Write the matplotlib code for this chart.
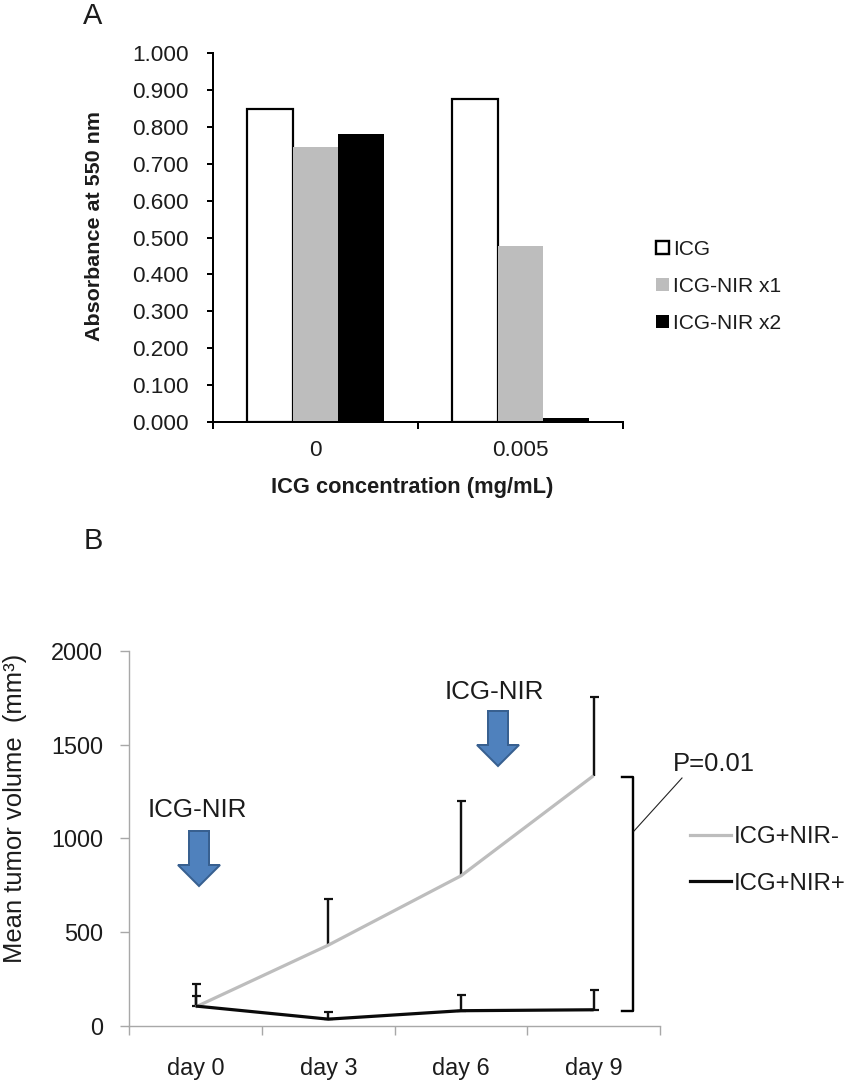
import matplotlib
matplotlib.use("Agg")
import matplotlib.pyplot as plt
from matplotlib.patches import Patch, Polygon
from matplotlib.lines import Line2D
import numpy as np

plt.rcParams['font.family'] = ['Liberation Sans', 'DejaVu Sans']

W, H = 850, 1084
DPI = 100
def pt(px):
    return px * 72 / DPI

# Panel A data
conc_labels = ['0', '0.005']
icg = [0.848, 0.875]
icg_nir1 = [0.747, 0.477]
icg_nir2 = [0.782, 0.010]
abs_ticks = [0.0, 0.1, 0.2, 0.3, 0.4, 0.5, 0.6, 0.7, 0.8, 0.9, 1.0]

# Panel B data
days = ['day 0', 'day 3', 'day 6', 'day 9']
nir_minus = [100, 430, 800, 1335]
nir_minus_upper = [160, 675, 1200, 1755]
nir_plus = [105, 35, 80, 85]
nir_plus_upper = [225, 75, 165, 190]
vol_ticks = [0, 500, 1000, 1500, 2000]

INK = '#1c1c1c'
GRAY = '#bdbdbd'

fig = plt.figure(figsize=(W / DPI, H / DPI), dpi=DPI, facecolor='white')

def axes_px(l, t, r, b):
    return fig.add_axes([l / W, 1 - b / H, (r - l) / W, (b - t) / H])

# ---------- Panel A ----------
a = axes_px(213, 53.3, 623, 421.7)
x = np.arange(len(conc_labels)) + 0.5
bw = 0.2225
a.bar(x - bw, icg, bw, color='white', edgecolor='black', linewidth=pt(2.2), zorder=2)
a.bar(x, icg_nir1, bw, color=GRAY, edgecolor='none', zorder=3)
a.bar(x + bw, icg_nir2, bw, color='black', edgecolor='none', zorder=3)
a.set_xlim(0, len(conc_labels))
a.set_ylim(0, 1)
a.set_yticks(abs_ticks)
a.set_yticklabels([f'{v:.3f}' for v in abs_ticks], fontsize=pt(22.5), color=INK)
a.set_xticks(np.arange(len(conc_labels) + 1))
a.set_xticklabels([])
a.set_xticks(x, minor=True)
a.set_xticklabels(conc_labels, minor=True, fontsize=pt(22.5), color=INK)
a.tick_params(axis='x', which='minor', length=0, pad=pt(18))
a.tick_params(axis='x', which='major', length=pt(7), width=pt(2), color='black')
a.tick_params(axis='y', length=pt(6), width=pt(2), color='black', pad=pt(18))
for s in ('top', 'right'):
    a.spines[s].set_visible(False)
for s in ('left', 'bottom'):
    a.spines[s].set_linewidth(pt(2))
    a.spines[s].set_zorder(5)

a_handles = [Patch(facecolor='white', edgecolor='black', linewidth=pt(2.4)),
             Patch(facecolor=GRAY, edgecolor='none'),
             Patch(facecolor='black', edgecolor='none')]
fig.legend(a_handles, ['ICG', 'ICG-NIR x1', 'ICG-NIR x2'],
           loc='upper left', bbox_to_anchor=(656 / W, 1 - 240 / H),
           frameon=False, fontsize=pt(21), handlelength=0.6, handleheight=0.6,
           handletextpad=0.2, labelspacing=0.86, borderpad=0, borderaxespad=0,
           labelcolor=INK)

# ---------- Panel B ----------
b = axes_px(129.3, 651, 660, 1025.7)
xb = np.arange(len(days)) + 0.5
for mean, upper in ((nir_minus, nir_minus_upper), (nir_plus, nir_plus_upper)):
    b.vlines(xb, mean, upper, color='#111111', linewidth=pt(2.4), zorder=3)
    b.plot(xb, upper, ls='none', marker='_', ms=pt(9), mew=pt(2.2), color='#111111', zorder=3)
b.plot(xb, nir_plus, ls='none', marker='_', ms=pt(9), mew=pt(2.2), color='#111111', zorder=3)
b.plot(xb, nir_minus, color=GRAY, linewidth=pt(3.2), zorder=4, solid_capstyle='butt')
b.plot(xb, nir_plus, color='#0a0a0a', linewidth=pt(3.2), zorder=5, solid_capstyle='butt')
b.set_xlim(0, len(days))
b.set_ylim(0, 2000)
b.set_yticks(vol_ticks)
b.set_yticklabels([str(v) for v in vol_ticks], fontsize=pt(23.5), color=INK)
b.set_xticks(np.arange(len(days) + 1))
b.set_xticklabels([])
b.set_xticks(xb, minor=True)
b.set_xticklabels(days, minor=True, fontsize=pt(23.5), color=INK)
b.tick_params(axis='x', which='minor', length=0, pad=pt(31))
b.tick_params(axis='x', which='major', length=pt(9), width=pt(1.4), color='#a8a8a8')
b.tick_params(axis='y', length=pt(9), width=pt(1.4), color='#a8a8a8', pad=pt(17))
for s in ('top', 'right'):
    b.spines[s].set_visible(False)
for s in ('left', 'bottom'):
    b.spines[s].set_linewidth(pt(1.4))
    b.spines[s].set_color('#a8a8a8')

b_handles = [Line2D([], [], color=GRAY, linewidth=pt(3.2)),
             Line2D([], [], color='#0a0a0a', linewidth=pt(3.2))]
fig.legend(b_handles, ['ICG+NIR-', 'ICG+NIR+'],
           loc='upper left', bbox_to_anchor=(690 / W, 1 - 826 / H),
           frameon=False, fontsize=pt(24), handlelength=1.72,
           handletextpad=0.12, labelspacing=1.03, borderpad=0, borderaxespad=0,
           labelcolor=INK)

# ---------- Annotation overlay in pixel coordinates ----------
o = fig.add_axes([0, 0, 1, 1], facecolor='none')
o.set_xlim(0, W)
o.set_ylim(H, 0)
o.axis('off')

def txt(px, py, s, size, **kw):
    kw.setdefault('ha', 'center')
    kw.setdefault('va', 'center')
    kw.setdefault('color', INK)
    o.text(px, py, s, fontsize=pt(size), **kw)

txt(93, 16, 'A', 29)
txt(93, 541, 'B', 29)
txt(95, 226, 'Absorbance at 550 nm', 21.5, rotation=90, fontweight='bold')
txt(412, 487, 'ICG concentration (mg/mL)', 21.9, fontweight='bold')
txt(15, 808, 'Mean tumor volume  (mm³)', 25.6, rotation=90)
txt(197, 810, 'ICG-NIR', 26)
txt(494.5, 692, 'ICG-NIR', 26)
txt(713.5, 764, 'P=0.01', 25.6)

def arrow(cx, top, neck, tip):
    half_shaft, half_head = 10, 21
    pts = [(cx - half_shaft, top), (cx + half_shaft, top), (cx + half_shaft, neck),
           (cx + half_head, neck), (cx, tip), (cx - half_head, neck), (cx - half_shaft, neck)]
    o.add_patch(Polygon(pts, closed=True, facecolor='#4f81bd', edgecolor='#386090',
                        linewidth=pt(2)))

arrow(199, 831, 865, 886)
arrow(498, 711, 745, 766)

o.plot([622, 633, 633, 622], [777, 777, 1011, 1011], color='black', linewidth=pt(2.4),
       solid_joinstyle='round')
o.plot([634, 682], [831, 778], color='#222222', linewidth=pt(1.1))

fig.savefig('out.png', dpi=DPI, facecolor='white')
